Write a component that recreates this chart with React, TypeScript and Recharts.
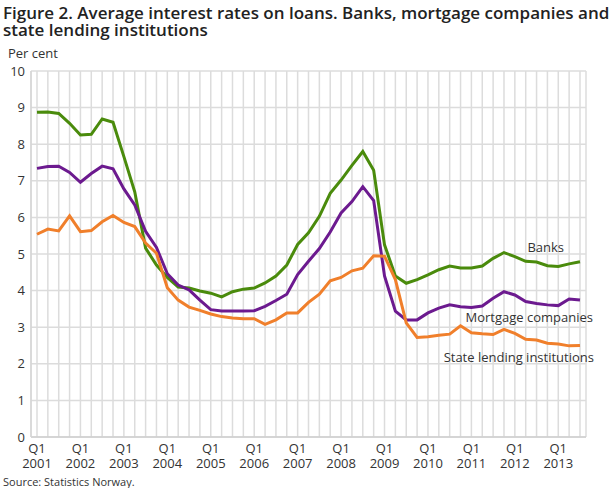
import { CartesianGrid, Line, LineChart, XAxis, YAxis } from "recharts";

const YEARS = [2001, 2002, 2003, 2004, 2005, 2006, 2007, 2008, 2009, 2010, 2011, 2012, 2013];
const QUARTERS = ["Q1", "Q2", "Q3", "Q4"];
const LAST_QUARTER_2013 = 3;

// Q1 2001 .. Q3 2013
const categories: string[] = [];
YEARS.forEach((yr) =>
  QUARTERS.forEach((q, qi) => {
    if (yr === 2013 && qi >= LAST_QUARTER_2013) return;
    categories.push(`${q} ${yr}`);
  })
);

const banks = [
  8.87, 8.88, 8.84, 8.57, 8.25, 8.27, 8.69, 8.6, 7.66, 6.7, 5.16, 4.7, 4.36, 4.1, 4.07, 3.99,
  3.93, 3.83, 3.97, 4.04, 4.07, 4.21, 4.4, 4.7, 5.26, 5.58, 6.03, 6.66, 7.02, 7.42, 7.8, 7.29,
  5.25, 4.4, 4.2, 4.3, 4.43, 4.57, 4.67, 4.62, 4.62, 4.67, 4.88, 5.04, 4.93, 4.8, 4.78, 4.68,
  4.66, 4.73, 4.79,
];

const mortgage = [
  7.34, 7.39, 7.4, 7.23, 6.96, 7.2, 7.4, 7.33, 6.78, 6.34, 5.62, 5.18, 4.46, 4.15, 4.02, 3.74,
  3.48, 3.44, 3.44, 3.44, 3.45, 3.57, 3.73, 3.9, 4.44, 4.8, 5.15, 5.6, 6.12, 6.43, 6.84, 6.46,
  4.4, 3.44, 3.2, 3.2, 3.39, 3.52, 3.61, 3.56, 3.54, 3.58, 3.79, 3.97, 3.88, 3.7, 3.65, 3.61,
  3.59, 3.77, 3.74,
];

const stateLending = [
  5.54, 5.68, 5.63, 6.04, 5.61, 5.64, 5.88, 6.05, 5.86, 5.75, 5.3, 5.02, 4.08, 3.74, 3.55, 3.46,
  3.36, 3.29, 3.25, 3.23, 3.23, 3.08, 3.2, 3.39, 3.39, 3.68, 3.9, 4.27, 4.36, 4.54, 4.61, 4.95,
  4.94, 4.3, 3.12, 2.72, 2.74, 2.78, 2.81, 3.04, 2.85, 2.82, 2.8, 2.94, 2.83, 2.67, 2.65, 2.56,
  2.54, 2.49, 2.5,
];

const yTicks = [0, 1, 2, 3, 4, 5, 6, 7, 8, 9, 10];

const data = categories.map((name, i) => ({
  name,
  banks: banks[i],
  mortgage: mortgage[i],
  state: stateLending[i],
}));

const FONT = "'Open Sans', sans-serif";
const TEXT = "#333";

function QuarterTick({ x, y, payload }: { x?: number; y?: number; payload?: { value: string } }) {
  const [q, yr] = (payload?.value ?? "").split(" ");
  if (q !== "Q1") return null;
  return (
    <g>
      <text x={x} y={(y ?? 0) + 16} textAnchor="middle" fontSize={13} fill={TEXT} fontFamily={FONT}>
        {q}
      </text>
      <text x={x} y={(y ?? 0) + 31} textAnchor="middle" fontSize={13} fill={TEXT} fontFamily={FONT}>
        {yr}
      </text>
    </g>
  );
}

const seriesLabel = (top: number, right: number, text: string) => (
  <div
    style={{
      position: "absolute",
      top,
      right,
      fontSize: 13,
      color: TEXT,
      fontFamily: FONT,
      whiteSpace: "nowrap",
      lineHeight: "18px",
    }}
  >
    {text}
  </div>
);

const titleLine = (top: number, text: string) => (
  <div
    style={{
      position: "absolute",
      left: 3,
      top,
      fontSize: 17,
      fontWeight: 600,
      lineHeight: "17px",
      color: "#222",
      whiteSpace: "nowrap",
    }}
  >
    {text}
  </div>
);

export default function App() {
  return (
    <div
      style={{
        position: "absolute",
        left: 0,
        top: 0,
        width: 610,
        height: 488,
        fontFamily: FONT,
        background: "#fff",
      }}
    >
      {titleLine(4, "Figure 2. Average interest rates on loans. Banks, mortgage companies and")}
      {titleLine(21, "state lending institutions")}
      <div style={{ position: "absolute", left: 8, top: 44, fontSize: 13, color: TEXT }}>Per cent</div>

      <div style={{ position: "absolute", left: 0, top: 0 }}>
        <LineChart width={610} height={488} data={data} margin={{ top: 71, right: 24, bottom: 0, left: 0 }}>
          <CartesianGrid stroke="#dcdcdc" strokeWidth={1.5} />
          <XAxis
            dataKey="name"
            interval={0}
            height={51}
            tick={<QuarterTick />}
            tickLine={false}
            tickSize={0}
            tickMargin={0}
            padding={{ left: 6, right: 6 }}
            axisLine={{ stroke: "#cfcfcf", strokeWidth: 1.5 }}
          />
          <YAxis
            width={31}
            domain={[0, 10]}
            ticks={yTicks}
            interval={0}
            tickLine={false}
            tickSize={0}
            tickMargin={6}
            axisLine={{ stroke: "#d6d6d6", strokeWidth: 1.5 }}
            tick={{ fontSize: 13, fill: TEXT, fontFamily: FONT }}
          />
          <Line dataKey="banks" stroke="#4a8b0c" strokeWidth={3} dot={false} isAnimationActive={false} />
          <Line dataKey="mortgage" stroke="#6c1a8f" strokeWidth={3} dot={false} isAnimationActive={false} />
          <Line dataKey="state" stroke="#f07f2b" strokeWidth={3} dot={false} isAnimationActive={false} />
        </LineChart>
      </div>

      {seriesLabel(238, 46, "Banks")}
      {seriesLabel(308, 17, "Mortgage companies")}
      {seriesLabel(348, 16, "State lending institutions")}

      <div style={{ position: "absolute", left: 3, top: 474, fontSize: 11, color: TEXT }}>
        Source: Statistics Norway.
      </div>
    </div>
  );
}
